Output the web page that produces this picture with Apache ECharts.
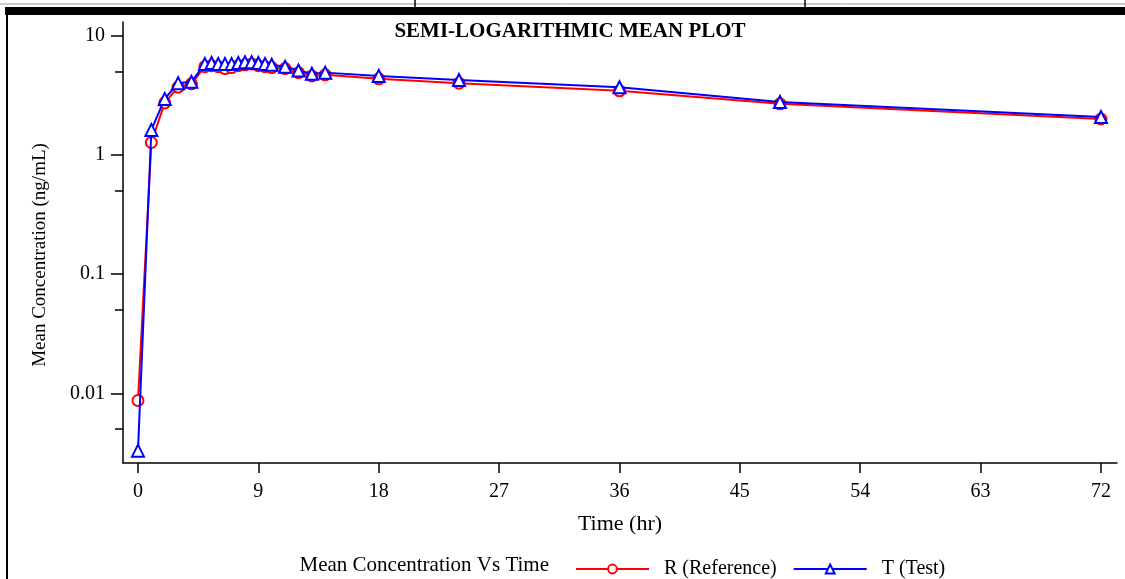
<!DOCTYPE html>
<html>
<head>
<meta charset="utf-8">
<script src="https://cdn.jsdelivr.net/npm/echarts@6/dist/echarts.min.js"></script>
<style>
html,body{margin:0;padding:0;background:#fff;}
#c{width:1125px;height:579px;}
</style>
</head>
<body>
<div id="c"></div>
<script>
// ---- data ----
const times = [0, 1, 2, 3, 4, 5, 5.5, 6, 6.5, 7, 7.5, 8, 8.5, 9, 9.5, 10, 11, 12, 13, 14, 18, 24, 36, 48, 72];
const refConc = [0.0087, 1.27, 2.73, 3.7, 3.95, 5.5, 5.6, 5.5, 5.3, 5.4, 5.6, 5.7, 5.8, 5.6, 5.5, 5.4, 5.3, 4.9, 4.6, 4.7, 4.35, 4.0, 3.45, 2.68, 2.0];
const testConc = [0.0033, 1.62, 2.95, 4.0, 4.1, 5.8, 5.9, 5.8, 5.8, 5.8, 5.9, 6.0, 6.0, 5.9, 5.8, 5.7, 5.5, 5.1, 4.8, 4.9, 4.6, 4.25, 3.7, 2.78, 2.08];
const xTicks = [0, 9, 18, 27, 36, 45, 54, 63, 72];
const yMajorTicks = [0.01, 0.1, 1, 10];
const yMinorTicks = [0.005, 0.05, 0.5, 5];
const seriesNames = ['R (Reference)', 'T (Test)'];
const titleText = 'SEMI-LOGARITHMIC MEAN PLOT';
const xName = 'Time (hr)';
const yName = 'Mean Concentration (ng/mL)';
const legendTitle = 'Mean Concentration Vs Time';

const FONT = 'Liberation Serif';
const chart = echarts.init(document.getElementById('c'), null, {renderer: 'canvas'});
const pair = (xs, ys) => xs.map((x, i) => [x, ys[i]]);
const yMin = 0.0026, yMax = 13.03;

chart.setOption({
  animation: false,
  backgroundColor: '#fff',
  grid: {left: 123, top: 22, right: 8, bottom: 116, containLabel: false},
  xAxis: {
    type: 'value', min: -1.12, max: 73.2,
    name: xName, nameLocation: 'middle', nameGap: 50,
    nameTextStyle: {fontFamily: FONT, fontSize: 22, color: '#000'},
    axisLine: {show: true, onZero: false, lineStyle: {color: '#000', width: 1.5}},
    axisTick: {show: true, length: 10, customValues: xTicks, lineStyle: {color: '#000', width: 1.5}},
    axisLabel: {customValues: xTicks, margin: 19, fontFamily: FONT, fontSize: 20, color: '#000'},
    splitLine: {show: false}
  },
  yAxis: [{
    type: 'log', min: yMin, max: yMax, logBase: 10,
    axisLine: {show: true, onZero: false, lineStyle: {color: '#000', width: 1.5}},
    axisTick: {show: true, length: 12, customValues: yMajorTicks, lineStyle: {color: '#000', width: 1.5}},
    axisLabel: {customValues: yMajorTicks, margin: 18, fontFamily: FONT, fontSize: 20, color: '#000',
      formatter: v => String(+(+v).toPrecision(3))},
    splitLine: {show: false}
  }, {
    type: 'log', min: yMin, max: yMax, logBase: 10, position: 'left',
    axisLine: {show: false, onZero: false},
    axisTick: {show: true, length: 8, customValues: yMinorTicks, lineStyle: {color: '#000', width: 1.5}},
    axisLabel: {show: false},
    splitLine: {show: false}
  }],
  legend: {
    left: 570, top: 554, itemWidth: 73, itemHeight: 11, itemGap: 16,
    textStyle: {fontFamily: FONT, fontSize: 20, color: '#000', padding: [0, 0, 0, 10]},
    data: seriesNames
  },
  series: [{
    name: seriesNames[0], type: 'line', yAxisIndex: 0,
    data: pair(times, refConc),
    symbol: 'emptyCircle', symbolSize: 11,
    lineStyle: {color: '#ff0000', width: 2},
    itemStyle: {color: '#ff0000', borderWidth: 2},
    z: 2
  }, {
    name: seriesNames[1], type: 'line', yAxisIndex: 0,
    data: pair(times, testConc),
    symbol: 'emptyTriangle', symbolSize: 12,
    lineStyle: {color: '#0000ff', width: 2},
    itemStyle: {color: '#0000ff', borderWidth: 2},
    z: 3
  }],
  graphic: [
    {type: 'line', shape: {x1: 0, y1: 4, x2: 1125, y2: 4}, style: {stroke: '#999', lineWidth: 1}},
    {type: 'line', shape: {x1: 415, y1: 0, x2: 415, y2: 8}, style: {stroke: '#000', lineWidth: 1.5}},
    {type: 'line', shape: {x1: 805, y1: 0, x2: 805, y2: 8}, style: {stroke: '#000', lineWidth: 1.5}},
    {type: 'rect', shape: {x: 5, y: 7, width: 1120, height: 8}, style: {fill: '#000'}},
    {type: 'line', shape: {x1: 7, y1: 14, x2: 7, y2: 579}, style: {stroke: '#000', lineWidth: 2}},
    {type: 'text', x: 570, y: 32, style: {text: titleText, font: 'bold 21px "Liberation Serif"', fill: '#000', align: 'center', verticalAlign: 'middle'}},
    {type: 'text', x: 40, y: 255, rotation: Math.PI / 2, style: {text: yName, font: '19px "Liberation Serif"', fill: '#000', align: 'center', verticalAlign: 'middle'}},
    {type: 'text', x: 549, y: 565, style: {text: legendTitle, font: '21px "Liberation Serif"', fill: '#000', align: 'right', verticalAlign: 'middle'}}
  ]
});
</script>
</body>
</html>
